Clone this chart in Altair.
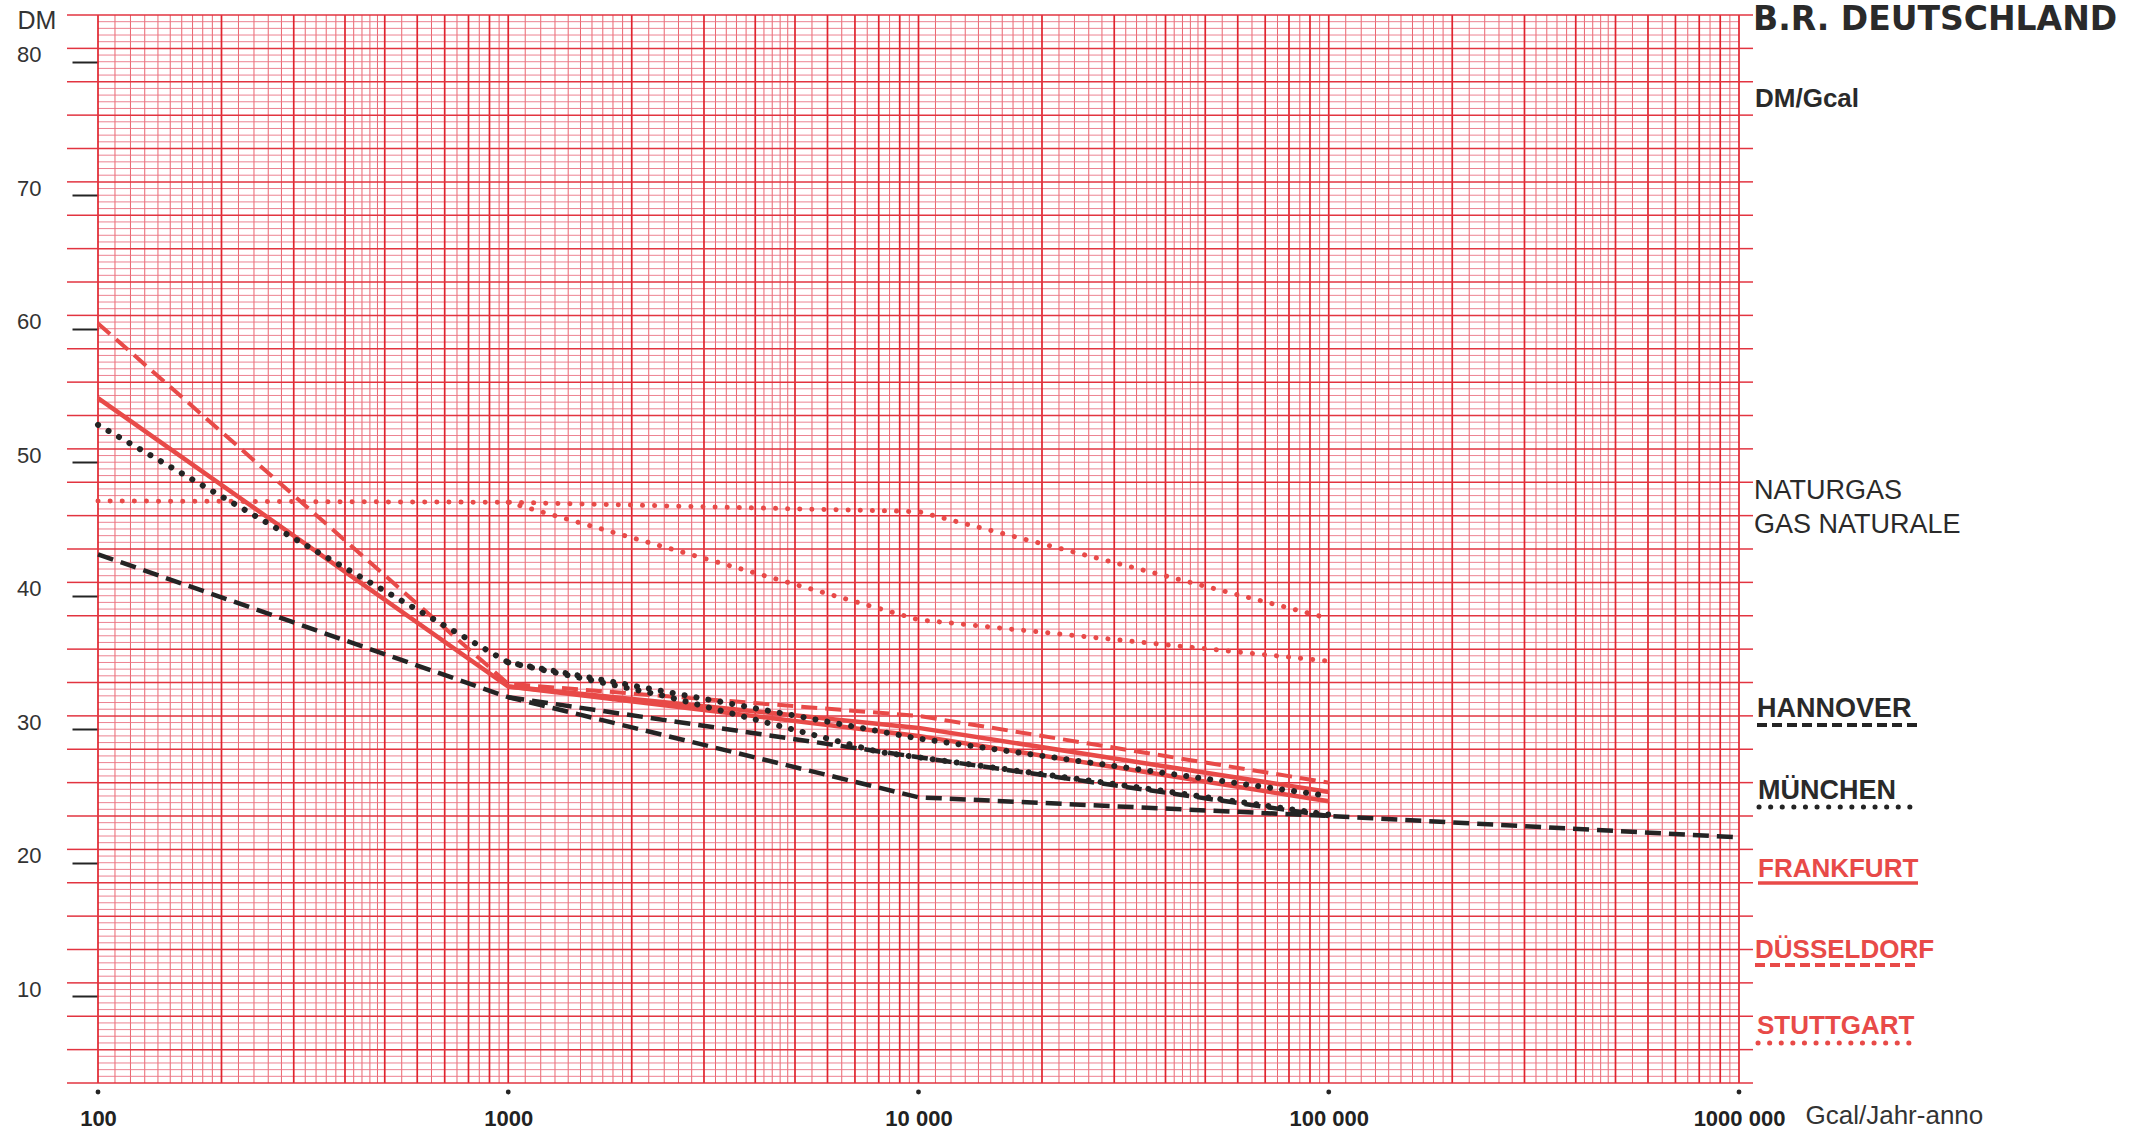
import altair as alt
import pandas as pd

# ---------------- data ----------------
HANNOVER_1_X = [100, 1000, 10000, 100000, 1000000]
HANNOVER_1_Y = [43.1, 32.4, 24.9, 23.5, 21.9]
HANNOVER_2_X = [1000, 10000, 100000]
HANNOVER_2_Y = [32.4, 27.9, 23.5]

MUENCHEN_1_X = [100, 1000, 10000, 100000]
MUENCHEN_1_Y = [52.8, 35.0, 29.3, 25.0]
MUENCHEN_2_X = [1000, 2400, 8000, 30000, 100000]
MUENCHEN_2_Y = [35.0, 32.5, 28.3, 25.9, 23.6]

FRANKFURT_1_X = [100, 1000, 10000, 100000]
FRANKFURT_1_Y = [54.8, 33.2, 30.1, 25.3]
FRANKFURT_2_X = [1000, 10000, 100000]
FRANKFURT_2_Y = [33.2, 29.5, 24.6]

DUESSELDORF_X = [100, 1000, 10000, 100000]
DUESSELDORF_Y = [60.4, 33.4, 31.0, 26.0]

STUTTGART_1_X = [100, 1000, 10000, 100000]
STUTTGART_1_Y = [47.1, 47.0, 46.3, 38.3]
STUTTGART_2_X = [1000, 10000, 100000]
STUTTGART_2_Y = [47.0, 38.2, 35.1]

X_TICKS = [100, 1000, 10000, 100000, 1000000]
X_TICK_LABELS = ["100", "1000", "10 000", "100 000", "1000 000"]
Y_TICKS = [10, 20, 30, 40, 50, 60, 70, 80]

# graph-paper rulings (log paper mantissas, linear paper every 0.5 / 2.5)
DECADES = [100, 1000, 10000, 100000]
PAPER_MAJOR_MANT = [1, 2, 3, 4, 5, 6, 7, 8, 9]
PAPER_MINOR_MANT = [1.1, 1.2, 1.3, 1.4, 1.5, 1.6, 1.7, 1.8, 1.9,
                    2.2, 2.4, 2.6, 2.8, 3.2, 3.4, 3.6, 3.8,
                    4.2, 4.4, 4.6, 4.8, 5.5, 6.5, 7.5, 8.5, 9.5]
Y_MIN, Y_MAX = 3.5, 83.5

W, H = 1641, 1068
RED = "#e84a48"
BLACK = "#242424"
FONT = "Liberation Sans, Arial, sans-serif"
WIDE = "DejaVu Sans, Liberation Sans, sans-serif"

xs = alt.Scale(type="log", domain=[100, 1000000], nice=False)
ys = alt.Scale(domain=[Y_MIN, Y_MAX], nice=False, zero=False)

label_expr = " : ".join(
    f"datum.value == {v} ? '{l}'" for v, l in zip(X_TICKS, X_TICK_LABELS)) + " : ''"

X_AXIS = alt.Axis(
    values=X_TICKS, labelExpr=label_expr, grid=False, domain=False,
    ticks=False, labelPadding=42, labelBaseline="alphabetic",
    labelFont=FONT, labelFontSize=22, labelFontWeight="bold",
    labelColor="#222222", labelFlush=False, labelOverlap=False,
    title="Gcal/Jahr-anno", titleX=W + 66, titleY=40, titleAlign="left",
    titleAnchor="start", titleBaseline="alphabetic", titleFont=FONT,
    titleFontSize=26, titleFontWeight="normal", titleColor="#333333")

Y_AXIS = alt.Axis(
    values=Y_TICKS, grid=False, domain=False, ticks=True, tickSize=26,
    tickWidth=2, tickColor=BLACK, labelPadding=31, labelFont=FONT,
    labelFontSize=22, labelColor="#333333", labelBaseline="alphabetic",
    title="DM", titleAngle=0, titleX=-81, titleY=13, titleAlign="left",
    titleBaseline="alphabetic", titleFont=FONT, titleFontSize=25,
    titleFontWeight="normal", titleColor="#333333")

vmaj = pd.DataFrame({"gx": [d * m for d in DECADES for m in PAPER_MAJOR_MANT] + [1000000]})
vmin = pd.DataFrame({"gx": [d * m for d in DECADES for m in PAPER_MINOR_MANT]})
hall = [Y_MIN + 0.5 * i for i in range(int((Y_MAX - Y_MIN) / 0.5) + 1)]
hmaj = pd.DataFrame({"gy": [v for i, v in enumerate(hall) if i % 5 == 0]})
hmin = pd.DataFrame({"gy": [v for i, v in enumerate(hall) if i % 5 != 0]})

layers = []
# minor rulings
layers.append(alt.Chart(vmin).mark_rule(color="#e8545e", strokeWidth=0.9).encode(
    x=alt.X("gx:Q", scale=xs, axis=X_AXIS)))
layers.append(alt.Chart(hmin).mark_rule(color="#ea7484", strokeWidth=0.9).encode(
    y=alt.Y("gy:Q", scale=ys, axis=Y_AXIS)))
# major rulings
layers.append(alt.Chart(vmaj).mark_rule(color="#e0242e", strokeWidth=1.7).encode(
    x=alt.X("gx:Q", scale=xs, axis=X_AXIS)))
layers.append(alt.Chart(hmaj).mark_rule(color="#e23440", strokeWidth=1.5).encode(
    y=alt.Y("gy:Q", scale=ys, axis=Y_AXIS)))
# paper margin ticks (left and right)
layers.append(alt.Chart(hmaj).mark_rule(color="#e23440", strokeWidth=1.5).encode(
    y=alt.Y("gy:Q", scale=ys, axis=Y_AXIS), x=alt.value(-31), x2=alt.value(0)))
layers.append(alt.Chart(hmaj).mark_rule(color="#e23440", strokeWidth=1.5).encode(
    y=alt.Y("gy:Q", scale=ys, axis=Y_AXIS), x=alt.value(W), x2=alt.value(W + 14)))

# small dots under the decade marks
layers.append(alt.Chart(pd.DataFrame({"t": X_TICKS})).mark_circle(
    size=24, color=BLACK, opacity=1).encode(
    x=alt.X("t:Q", scale=xs, axis=X_AXIS), y=alt.value(H + 9)))

DASH = [16, 8]
DOT = [0.1, 12]
series = [
    (FRANKFURT_1_X, FRANKFURT_1_Y, RED, None, 4.5),
    (FRANKFURT_2_X, FRANKFURT_2_Y, RED, None, 4.5),
    (DUESSELDORF_X, DUESSELDORF_Y, RED, DASH, 4),
    (STUTTGART_1_X, STUTTGART_1_Y, RED, DOT, 5),
    (STUTTGART_2_X, STUTTGART_2_Y, RED, DOT, 5),
    (HANNOVER_1_X, HANNOVER_1_Y, BLACK, DASH, 4.5),
    (HANNOVER_2_X, HANNOVER_2_Y, BLACK, DASH, 4.5),
    (MUENCHEN_1_X, MUENCHEN_1_Y, BLACK, DOT, 6),
    (MUENCHEN_2_X, MUENCHEN_2_Y, BLACK, DOT, 6),
]
for sx, sy, col, dash, sw in series:
    kw = dict(color=col, strokeWidth=sw, strokeCap="round" if dash == DOT else "butt")
    if dash:
        kw["strokeDash"] = dash
    layers.append(alt.Chart(pd.DataFrame({"x": sx, "y": sy})).mark_line(**kw).encode(
        x=alt.X("x:Q", scale=xs, axis=X_AXIS), y=alt.Y("y:Q", scale=ys, axis=Y_AXIS)))

one = pd.DataFrame({"a": [0]})


def txt(s, x, y, size, weight="normal", color="#2a2a2a", font=FONT):
    return alt.Chart(one).mark_text(
        text=s, align="left", baseline="alphabetic", font=font, fontSize=size,
        fontWeight=weight, color=color).encode(x=alt.value(x), y=alt.value(y))


def rule(x1, x2, y, color, dash, sw, cap="butt"):
    kw = dict(color=color, strokeWidth=sw, strokeCap=cap)
    if dash:
        kw["strokeDash"] = dash
    return alt.Chart(one).mark_rule(**kw).encode(
        x=alt.value(x1), x2=alt.value(x2), y=alt.value(y))


layers += [
    txt("B.R. DEUTSCHLAND", 1655, 15, 33, "bold", font=WIDE),
    txt("DM/Gcal", 1657, 92, 26, "bold"),
    txt("NATURGAS", 1656, 484, 27),
    txt("GAS NATURALE", 1656, 518, 27),
    txt("HANNOVER", 1659, 702, 27, "bold"),
    rule(1659, 1823, 710, BLACK, [10, 5], 4),
    txt("MÜNCHEN", 1660, 784, 27, "bold"),
    rule(1661, 1821, 792, BLACK, [0.1, 11.5], 5, "round"),
    txt("FRANKFURT", 1660, 862, 26, "bold", RED),
    rule(1660, 1820, 868, RED, None, 3.5),
    txt("DÜSSELDORF", 1657, 943, 26, "bold", RED),
    rule(1657, 1819, 950, RED, [10, 5], 4),
    txt("STUTTGART", 1659, 1019, 26, "bold", RED),
    rule(1660, 1820, 1028, RED, [0.1, 11.5], 5, "round"),
]

chart = alt.layer(*layers).properties(
    width=W, height=H,
    padding={"left": 98, "top": 15, "right": 2146 - 98 - W, "bottom": 1134 - 15 - H},
    autosize=alt.AutoSizeParams(type="none"),
    background="#ffffff",
).configure_view(stroke=None)

chart.save("out.html", embed_options={"renderer": "svg", "actions": False})
